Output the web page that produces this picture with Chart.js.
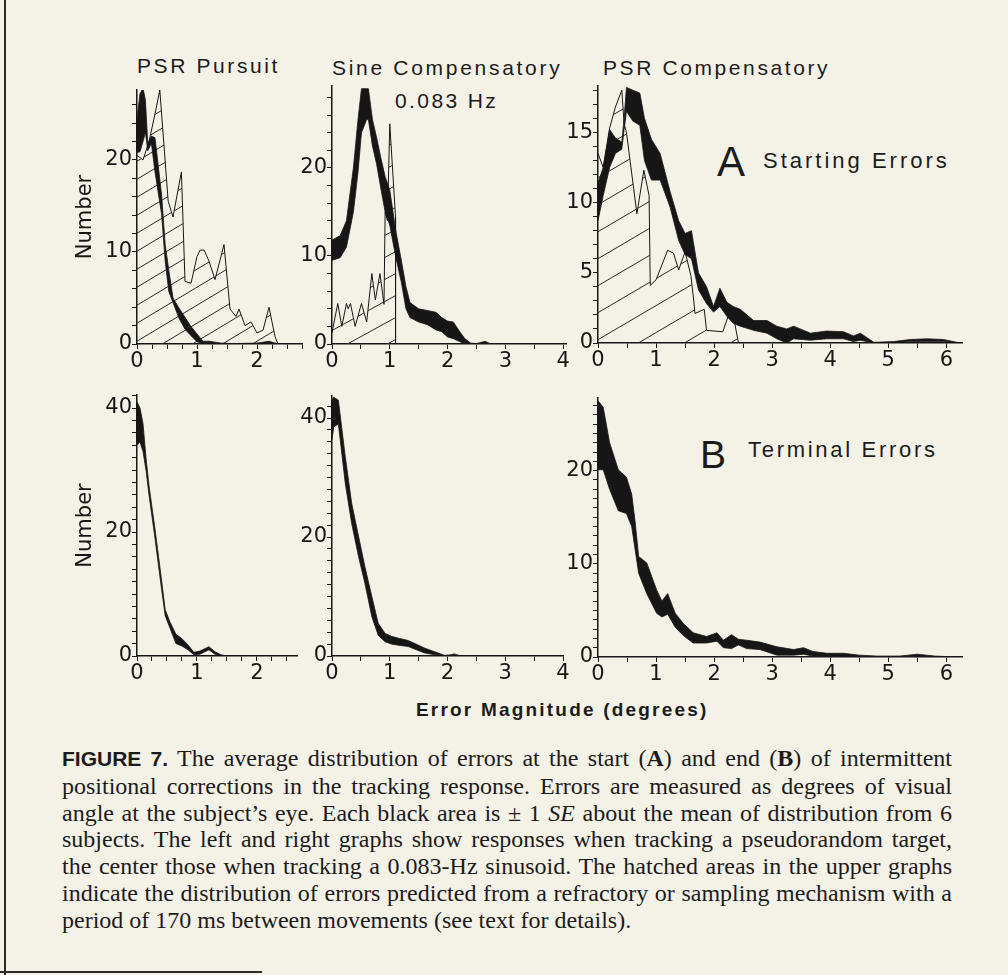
<!DOCTYPE html>
<html>
<head>
<meta charset="utf-8">
<script src="https://cdn.jsdelivr.net/npm/chart.js@4.4.1/dist/chart.umd.min.js"></script>
<style>
  body { margin: 0; background: #f4f1e7; }
  #page { position: relative; width: 1008px; height: 975px; overflow: hidden; background: #f4f1e7;
          color: #1b1b1b; font-family: "Liberation Sans", Arial, sans-serif; }
  canvas { position: absolute; }
  .lbl { position: absolute; white-space: nowrap; line-height: 1; }
  .title { font-size: 21px; letter-spacing: 2.6px; }
  .edge { position: absolute; background: #2a2a2a; }
  #caption { position: absolute; left: 62px; top: 745px; width: 890px;
             font-family: "Liberation Serif", "Times New Roman", serif; font-size: 24px; line-height: 26.8px; }
  .cl { text-align: justify; text-align-last: justify; white-space: nowrap; }
  .cl.last { text-align: left; text-align-last: left; }
  .fig { font-family: "Liberation Sans", Arial, sans-serif; font-weight: bold; font-size: 21px; }
</style>
</head>
<body>
<div id="page">
  <div class="edge" style="left:4px; top:0; width:2px; height:975px;"></div>
  <div class="edge" style="left:0; top:971px; width:262px; height:2px;"></div>

  <div class="lbl title" style="left:137px; top:55px;">PSR Pursuit</div>
  <div class="lbl title" style="left:332px; top:57px; letter-spacing:2.7px;">Sine Compensatory</div>
  <div class="lbl title" style="left:395px; top:90px; letter-spacing:2.4px;">0.083 Hz</div>
  <div class="lbl title" style="left:603px; top:57px;">PSR Compensatory</div>

  <div class="lbl" style="left:717px; top:141px; font-size:42px;">A</div>
  <div class="lbl" style="left:763px; top:150px; font-size:22px; letter-spacing:3px;">Starting Errors</div>
  <div class="lbl" style="left:700px; top:435px; font-size:39px;">B</div>
  <div class="lbl" style="left:748px; top:439px; font-size:22px; letter-spacing:2.7px;">Terminal Errors</div>

  <div class="lbl" style="left:416px; top:700px; font-size:19px; font-weight:bold; letter-spacing:2.2px;">Error Magnitude (degrees)</div>

  <div id="caption">
    <div class="cl"><span class="fig">FIGURE 7.</span> The average distribution of errors at the start (<b>A</b>) and end (<b>B</b>) of intermittent</div>
    <div class="cl">positional corrections in the tracking response. Errors are measured as degrees of visual</div>
    <div class="cl">angle at the subject’s eye. Each black area is ± 1 <i>SE</i> about the mean of distribution from 6</div>
    <div class="cl">subjects. The left and right graphs show responses when tracking a pseudorandom target,</div>
    <div class="cl">the center those when tracking a 0.083-Hz sinusoid. The hatched areas in the upper graphs</div>
    <div class="cl">indicate the distribution of errors predicted from a refractory or sampling mechanism with a</div>
    <div class="cl last">period of 170 ms between movements (see text for details).</div>
  </div>
</div>

<script>
// ===== DATA (error magnitude in degrees, number of corrections) =====
// A: starting errors
const pursuitStartX  = [0, 0.05, 0.1, 0.14, 0.18, 0.24, 0.3, 0.35, 0.41, 0.47, 0.53, 0.6, 0.7, 0.8, 0.9, 1.0, 1.1, 1.2, 1.3, 1.4, 1.6, 2.0, 2.2, 2.3, 2.4];
const pursuitStartHi = [24.5, 27.2, 27.8, 26.5, 21.8, 22.6, 22.4, 19.6, 16.2, 10.8, 8.0, 5.0, 3.9, 2.9, 1.9, 1.1, 0.3, 0.3, 0.2, 0.1, 0.05, 0.1, 0.3, 0.1, 0];
const pursuitStartLo = [20.8, 20.9, 22.0, 23.0, 21.0, 21.8, 18.7, 16.6, 14.1, 9.0, 5.7, 4.5, 2.8, 1.6, 0.9, 0.25, 0.05, 0, 0, 0, 0, 0, 0, 0, 0];
const pursuitPredX   = [0, 0.1, 0.2, 0.3, 0.38, 0.52, 0.6, 0.74, 0.8, 0.9, 1.0, 1.05, 1.12, 1.2, 1.3, 1.45, 1.55, 1.65, 1.7, 1.8, 1.9, 2.0, 2.1, 2.2, 2.3, 2.35];
const pursuitPredY   = [20.5, 20.0, 22.0, 25.0, 27.6, 15.5, 13.8, 18.7, 6.8, 6.6, 9.5, 10.2, 10.2, 9.0, 7.0, 10.8, 3.8, 3.0, 3.8, 2.0, 2.4, 1.2, 1.5, 4.0, 0.8, 0];

const sineStartX  = [0, 0.14, 0.25, 0.37, 0.45, 0.51, 0.6, 0.63, 0.7, 0.77, 0.85, 0.92, 1.0, 1.1, 1.2, 1.28, 1.35, 1.5, 1.65, 1.8, 1.9, 2.0, 2.1, 2.2, 2.3, 2.4, 2.5, 2.65, 2.75];
const sineStartHi = [11.8, 12.3, 14.0, 20.0, 25.5, 29.0, 29.0, 29.0, 25.5, 23.5, 21.0, 19.0, 17.5, 13.0, 9.5, 6.5, 4.7, 4.0, 3.8, 3.6, 3.0, 2.6, 2.5, 1.5, 0.6, 0.1, 0.05, 0.3, 0];
const sineStartLo = [9.5, 9.8, 11.0, 15.0, 19.5, 24.0, 25.5, 25.5, 22.5, 20.5, 17.5, 15.0, 13.5, 10.0, 7.0, 4.0, 3.0, 2.5, 2.2, 1.6, 1.4, 0.8, 0.6, 0.3, 0, 0, 0, 0, 0];
const sinePredX   = [0, 0.1, 0.17, 0.25, 0.28, 0.32, 0.4, 0.51, 0.6, 0.69, 0.75, 0.83, 0.9, 0.92, 0.96, 1.0, 1.1, 1.1];
const sinePredY   = [1.3, 4.6, 2.0, 4.6, 4.0, 4.6, 2.0, 4.6, 2.5, 8.0, 5.0, 8.0, 4.5, 15.0, 14.0, 25.0, 14.4, 0];

const compStartX  = [0, 0.09, 0.2, 0.3, 0.41, 0.45, 0.49, 0.6, 0.72, 0.8, 0.92, 1.07, 1.24, 1.39, 1.5, 1.61, 1.73, 1.87, 1.99, 2.1, 2.22, 2.33, 2.45, 2.68, 2.91, 3.08, 3.25, 3.37, 3.66, 3.94, 4.23, 4.4, 4.52, 4.75, 5.09, 5.38, 5.67, 5.95, 6.24];
const compStartHi = [11.4, 12.5, 15.2, 14.6, 14.3, 16.0, 18.2, 18.0, 17.8, 16.0, 14.5, 13.5, 10.8, 8.7, 7.8, 8.0, 5.0, 4.0, 2.6, 3.9, 2.9, 2.6, 2.4, 1.6, 1.6, 1.2, 1.0, 1.2, 0.7, 0.85, 0.8, 0.5, 0.7, 0.05, 0.1, 0.25, 0.3, 0.25, 0];
const compStartLo = [8.7, 10.5, 12.5, 13.5, 13.8, 15.2, 16.5, 15.8, 15.5, 13.0, 11.6, 11.6, 9.7, 7.3, 6.3, 6.0, 3.8, 2.8, 2.2, 2.6, 1.9, 1.4, 1.2, 0.9, 0.7, 0.3, 0, 0.3, 0.2, 0.3, 0.3, 0.1, 0.2, 0, 0, 0.1, 0.1, 0.1, 0];
const compPredX   = [0, 0.09, 0.2, 0.3, 0.41, 0.45, 0.49, 0.67, 0.79, 0.88, 0.9, 1.0, 1.2, 1.3, 1.39, 1.5, 1.6, 1.65, 1.67, 1.83, 1.87, 2.15, 2.3, 2.42];
const compPredY   = [13.5, 12.5, 15.3, 16.8, 18.0, 15.6, 15.0, 9.2, 12.3, 10.5, 4.1, 4.5, 6.6, 6.4, 5.2, 6.5, 4.8, 3.0, 2.1, 2.4, 0.9, 0.8, 2.6, 0];

// B: terminal errors
const pursuitEndX  = [0, 0.05, 0.1, 0.15, 0.2, 0.3, 0.4, 0.47, 0.55, 0.65, 0.75, 0.85, 0.95, 1.05, 1.2, 1.3, 1.4, 1.5];
const pursuitEndHi = [41.0, 40.0, 37.5, 32.0, 27.5, 20.5, 13.0, 7.5, 5.5, 3.5, 2.8, 1.8, 0.6, 0.8, 1.5, 0.7, 0.2, 0];
const pursuitEndLo = [34.0, 34.5, 33.0, 30.0, 26.0, 19.0, 11.5, 6.5, 4.5, 2.0, 1.6, 1.0, 0.2, 0.3, 1.0, 0.3, 0, 0];

const sineEndX  = [0, 0.03, 0.11, 0.23, 0.34, 0.46, 0.57, 0.69, 0.8, 0.92, 1.03, 1.15, 1.32, 1.5, 1.61, 1.78, 1.95, 2.05, 2.12, 2.2, 2.5];
const sineEndHi = [43.0, 43.5, 43.0, 33.5, 25.7, 20.1, 15.0, 10.0, 5.5, 3.8, 3.3, 3.0, 2.6, 1.8, 1.3, 0.7, 0.1, 0.2, 0.35, 0.1, 0];
const sineEndLo = [36.3, 38.5, 39.0, 29.0, 22.3, 16.7, 12.2, 6.6, 3.5, 2.4, 2.0, 1.8, 1.6, 0.9, 0.5, 0.2, 0, 0, 0, 0, 0];

const compEndX  = [0, 0.09, 0.2, 0.35, 0.49, 0.58, 0.64, 0.7, 0.84, 1.01, 1.1, 1.2, 1.33, 1.47, 1.64, 1.87, 2.05, 2.16, 2.3, 2.42, 2.56, 2.79, 3.08, 3.37, 3.54, 3.7, 3.94, 4.23, 4.5, 4.8, 5.2, 5.5, 5.8, 6.2];
const compEndHi = [27.5, 26.8, 23.0, 20.1, 19.3, 17.5, 14.5, 10.8, 10.1, 7.2, 6.0, 6.8, 4.7, 3.6, 2.6, 2.2, 2.6, 1.8, 2.4, 1.9, 1.8, 1.6, 1.1, 0.8, 1.0, 0.6, 0.4, 0.4, 0.2, 0.1, 0.1, 0.3, 0.1, 0];
const compEndLo = [20.1, 20.1, 18.0, 15.7, 15.4, 14.0, 11.5, 9.0, 6.8, 4.7, 4.3, 4.6, 3.2, 2.3, 1.5, 1.5, 1.7, 1.0, 0.9, 1.3, 0.9, 0.8, 0.2, 0.2, 0.3, 0.1, 0.1, 0.1, 0, 0, 0, 0, 0, 0];

// tick labels
const pursuitXLabels = [0, 1, 2];
const sineXLabels = [0, 1, 2, 3, 4];
const compXLabels = [0, 1, 2, 3, 4, 5, 6];
const pursuitStartYLabels = [0, 10, 20];
const sineStartYLabels = [0, 10, 20];
const compStartYLabels = [0, 5, 10, 15];
const pursuitEndYLabels = [0, 20, 40];
const sineEndYLabels = [0, 20, 40];
const compEndYLabels = [0, 10, 20];


// ===== LAYOUT =====
const ink = "#161616";
const page = document.getElementById("page");

const panels = [
  { x0: 137, y0: 344, px: 60, py: 9.2, xMax: 2.75, yMax: 27.6, xStep: 0.25, yStep: 2,
    xLabels: pursuitXLabels, yLabels: pursuitStartYLabels,
    bx: pursuitStartX, hi: pursuitStartHi, lo: pursuitStartLo,
    predX: pursuitPredX, predY: pursuitPredY, hatch: [30, 18], yTitle: "Number" },
  { x0: 332, y0: 344, px: 57.75, py: 8.8, xMax: 4.05, yMax: 29.3, xStep: 0.5, yStep: 2,
    xLabels: sineXLabels, yLabels: sineStartYLabels,
    bx: sineStartX, hi: sineStartHi, lo: sineStartLo,
    predX: sinePredX, predY: sinePredY, hatch: [40, 22] },
  { x0: 598, y0: 343, px: 58, py: 14.07, xMax: 6.27, yMax: 18.3, xStep: 0.5, yStep: 1,
    xLabels: compXLabels, yLabels: compStartYLabels,
    bx: compStartX, hi: compStartHi, lo: compStartLo,
    predX: compPredX, predY: compPredY, hatch: [46, 27] },
  { x0: 137, y0: 656, px: 60, py: 6.2, xMax: 2.67, yMax: 42.1, xStep: 0.25, yStep: 2,
    xLabels: pursuitXLabels, yLabels: pursuitEndYLabels,
    bx: pursuitEndX, hi: pursuitEndHi, lo: pursuitEndLo, yTitle: "Number" },
  { x0: 332, y0: 656, px: 57.75, py: 5.95, xMax: 4.0, yMax: 43.7, xStep: 0.5, yStep: 2,
    xLabels: sineXLabels, yLabels: sineEndYLabels,
    bx: sineEndX, hi: sineEndHi, lo: sineEndLo },
  { x0: 598, y0: 657, px: 58, py: 9.33, xMax: 6.27, yMax: 27.8, xStep: 0.5, yStep: 1,
    xLabels: compXLabels, yLabels: compEndYLabels,
    bx: compEndX, hi: compEndHi, lo: compEndLo }
];

function zip(xs, ys) {
  return xs.map((x, i) => ({ x: x, y: ys[i] }));
}

// diagonal hatch, rising to the right
function makeHatch(w, h) {
  const c = document.createElement("canvas");
  c.width = w;
  c.height = h;
  const g = c.getContext("2d");
  g.strokeStyle = "#2a2a2a";
  g.lineWidth = 1;
  for (let k = -1; k <= 1; k++) {
    g.beginPath();
    g.moveTo(-1, h + k * h + h / w);
    g.lineTo(w + 1, k * h - h / w);
    g.stroke();
  }
  return g.createPattern(c, "repeat");
}

function axis(max, step, labels, fit) {
  return {
    type: "linear",
    min: 0,
    max: max,
    afterBuildTicks: s => {
      const t = [];
      for (let i = 0; i * step <= max + 1e-9; i++) t.push({ value: i * step });
      s.ticks = t;
    },
    ticks: {
      autoSkip: false, maxRotation: 0, padding: 0, color: ink,
      font: { family: "'DejaVu Sans', sans-serif", size: 21 },
      callback: v => labels.includes(v) ? String(v) : ""
    },
    grid: { drawOnChartArea: false, drawTicks: true, tickLength: 5, color: ink, lineWidth: 1 },
    border: { display: true, color: ink, width: 1.5 },
    afterFit: fit
  };
}

function drawPanel(p) {
  const L = p.yTitle ? 68 : 50, R = 12, T = 14, B = 30;
  const plotW = p.xMax * p.px;
  const plotH = p.yMax * p.py;
  const top = Math.round(p.y0 - plotH - T);

  const cv = document.createElement("canvas");
  cv.width = Math.round(L + plotW + R);
  cv.height = p.y0 + B - top;
  cv.style.left = (p.x0 - L) + "px";
  cv.style.top = top + "px";
  page.appendChild(cv);

  const datasets = [
    { data: zip(p.bx, p.hi), borderColor: ink, borderWidth: 0.8, backgroundColor: ink, fill: "+1", pointRadius: 0 },
    { data: zip(p.bx, p.lo), borderColor: ink, borderWidth: 0.8, fill: false, pointRadius: 0 }
  ];
  if (p.predX) {
    datasets.push({
      data: zip(p.predX, p.predY), borderColor: ink, borderWidth: 1,
      backgroundColor: makeHatch(p.hatch[0], p.hatch[1]), fill: "origin", pointRadius: 0
    });
  }

  const yAxis = axis(p.yMax, p.yStep, p.yLabels, s => { s.width = L; });
  yAxis.title = {
    display: !!p.yTitle, text: p.yTitle || "", color: ink,
    font: { family: "'DejaVu Sans', sans-serif", size: 21 }, padding: { top: 4, bottom: 4 }
  };

  new Chart(cv, {
    type: "line",
    data: { datasets: datasets },
    options: {
      responsive: false,
      animation: false,
      events: [],
      layout: { padding: { left: 0, right: R, top: T, bottom: 0 }, autoPadding: false },
      elements: { line: { tension: 0 } },
      plugins: { legend: { display: false }, tooltip: { enabled: false } },
      scales: {
        x: axis(p.xMax, p.xStep, p.xLabels, s => { s.height = B; }),
        y: yAxis
      }
    }
  });
}

Chart.defaults.font.family = "'Liberation Sans', Arial, sans-serif";
panels.forEach(drawPanel);
</script>
</body>
</html>
